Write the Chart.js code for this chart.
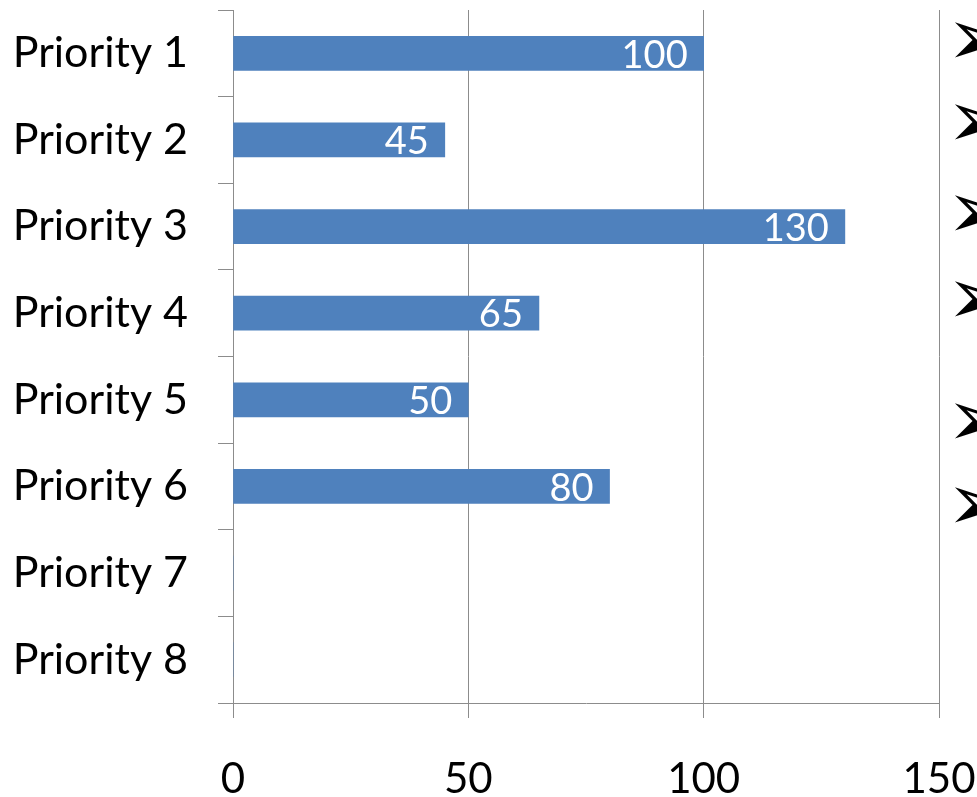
<!DOCTYPE html>
<html>
<head>
<meta charset="utf-8">
<title>Priorities</title>
<script src="https://cdn.jsdelivr.net/npm/chart.js@4/dist/chart.umd.min.js"></script>
<style>
  html, body { margin: 0; padding: 0; background: #fff; overflow: hidden; }
  #wrap { position: relative; width: 977px; height: 797px; overflow: hidden; }
  .bullet {
    position: absolute; left: 946px; font-family: "DejaVu Sans"; font-size: 80px;
    line-height: 80px; height: 80px; color: #000;
  }
</style>
</head>
<body>
<div id="wrap">
  <canvas id="chart" width="977" height="797"></canvas>
</div>
<script>
// Chart data
const categories = ['Priority 1', 'Priority 2', 'Priority 3', 'Priority 4',
                    'Priority 5', 'Priority 6', 'Priority 7', 'Priority 8'];
const values = [100, 45, 130, 65, 50, 80, 0, 0];
const xTicks = [0, 50, 100, 150];

// vertical centres of the slide bullets that are cut off on the right
const bulletCentres = [42, 124, 215, 301, 423, 507];

const axisGray = '#8c8c8c';
const barBlue = '#4f81bd';

// keep the plot area where the reference has it
function noScalePadding(scale) {
    scale.paddingTop = 0;
    scale.paddingBottom = 0;
    scale.paddingLeft = 0;
    scale.paddingRight = 0;
}

// white value labels, right aligned just inside the bar end
const valueLabels = {
    id: 'valueLabels',
    afterDatasetsDraw(chart) {
        const ctx = chart.ctx;
        const meta = chart.getDatasetMeta(0);
        ctx.save();
        ctx.font = '38px Lato';
        ctx.fillStyle = '#ffffff';
        ctx.textAlign = 'right';
        ctx.textBaseline = 'middle';
        meta.data.forEach(function(bar, i) {
            const text = String(values[i]);
            const w = ctx.measureText(text).width;
            const x = Math.max(bar.x - 16, bar.base + 22 + w);
            ctx.fillText(text, x, bar.y + 2);
        });
        ctx.restore();
    }
};

new Chart(document.getElementById('chart'), {
    type: 'bar',
    data: {
        labels: categories,
        datasets: [{
            data: values,
            backgroundColor: barBlue,
            borderWidth: 0,
            barThickness: 34
        }]
    },
    options: {
        indexAxis: 'y',
        responsive: false,
        animation: false,
        devicePixelRatio: 1,
        layout: { padding: { top: 10, right: 38, left: 0, bottom: 0 } },
        plugins: {
            legend: { display: false },
            tooltip: { enabled: false }
        },
        scales: {
            x: {
                min: 0,
                max: 150,
                afterFit: function(scale) {
                    scale.height = 94;
                    noScalePadding(scale);
                },
                afterBuildTicks: function(scale) {
                    scale.ticks = xTicks.map(v => ({ value: v }));
                },
                grid: {
                    color: axisGray,
                    lineWidth: 1,
                    drawTicks: true,
                    tickLength: 15,
                    tickColor: axisGray
                },
                border: { color: axisGray, width: 1 },
                ticks: {
                    font: { family: 'Lato', size: 42 },
                    color: '#000',
                    padding: 36,
                    maxRotation: 0
                }
            },
            y: {
                afterFit: function(scale) {
                    scale.width = 233;
                    noScalePadding(scale);
                },
                grid: {
                    offset: true,
                    drawOnChartArea: false,
                    drawTicks: true,
                    tickLength: 15,
                    color: axisGray
                },
                border: { color: axisGray, width: 1 },
                ticks: {
                    font: { family: 'Lato', size: 43 },
                    color: '#000',
                    padding: 30
                }
            }
        }
    },
    plugins: [valueLabels]
});

// slide bullets (arrowheads) on the right edge
const wrap = document.getElementById('wrap');
bulletCentres.forEach(function(c) {
    const span = document.createElement('span');
    span.className = 'bullet';
    span.style.top = (c - 44) + 'px';
    span.textContent = '\u27A2';
    wrap.appendChild(span);
});
</script>
</body>
</html>
